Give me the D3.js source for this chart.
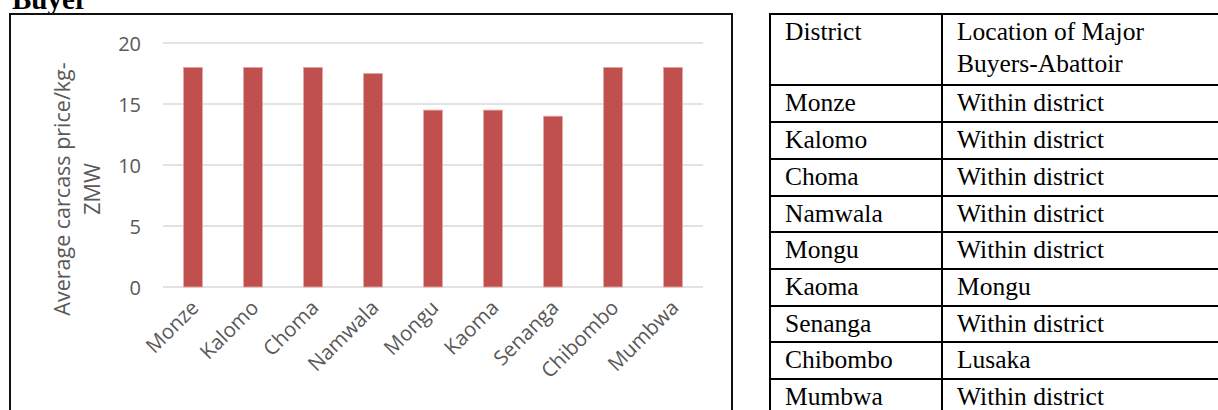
<!DOCTYPE html>
<html>
<head>
<meta charset="utf-8">
<script src="https://cdn.jsdelivr.net/npm/d3@7"></script>
<style>
  body { margin: 0; background: #fff; }
  svg { display: block; }
</style>
</head>
<body>
<div id="chart"></div>
<script>
// chart data
const districts = ["Monze", "Kalomo", "Choma", "Namwala", "Mongu", "Kaoma", "Senanga", "Chibombo", "Mumbwa"];
const carcassPrice = [18, 18, 18, 17.5, 14.5, 14.5, 14, 18, 18];
const yTicks = [0, 5, 10, 15, 20];

// table data
const tableHeader = ["District", ["Location of Major", "Buyers-Abattoir"]];
const buyerLocation = ["Within district", "Within district", "Within district", "Within district",
  "Within district", "Mongu", "Within district", "Lusaka", "Within district"];

const width = 1218, height = 410;
const chartFont = "'Open Sans', sans-serif";
const serif = "'Liberation Serif', 'Times New Roman', serif";

const svg = d3.select("#chart").append("svg")
  .attr("width", width)
  .attr("height", height);

// caption above, mostly cut off
svg.append("text")
  .attr("x", 12).attr("y", 9)
  .attr("font-family", serif)
  .attr("font-weight", "bold")
  .attr("font-size", 29)
  .text("Buyer");

// chart frame
svg.append("rect")
  .attr("x", 10).attr("y", 14)
  .attr("width", 722).attr("height", 420)
  .attr("fill", "none")
  .attr("stroke", "#111")
  .attr("stroke-width", 2);

const xScale = d3.scaleBand()
  .domain(districts)
  .range([163, 703])
  .paddingInner(0.685)
  .paddingOuter(0.3425);

const yScale = d3.scaleLinear()
  .domain([0, 20])
  .range([287, 43]);

// gridlines
svg.append("g")
  .selectAll("line")
  .data(yTicks)
  .enter().append("line")
  .attr("x1", 163).attr("x2", 703)
  .attr("y1", d => yScale(d)).attr("y2", d => yScale(d))
  .attr("stroke", "#d9d9d9")
  .attr("stroke-width", 1.5);

// y axis labels
const yAxis = d3.axisLeft(yScale).tickValues(yTicks).tickSize(0).tickPadding(0);
svg.append("g")
  .attr("transform", "translate(141,0)")
  .call(yAxis)
  .call(g => g.select(".domain").remove())
  .selectAll("text")
  .attr("font-family", chartFont)
  .attr("font-size", 20)
  .attr("fill", "#595959")
  .attr("dy", "0.35em");

// y axis title (two lines)
const yTitle = svg.append("text")
  .attr("transform", "translate(0,189) rotate(-90)")
  .attr("text-anchor", "middle")
  .attr("font-family", chartFont)
  .attr("font-size", 21.5)
  .attr("fill", "#595959");
yTitle.append("tspan").attr("x", 0).attr("y", 70).text("Average carcass price/kg-");
yTitle.append("tspan").attr("x", 0).attr("y", 100).text("ZMW");

// bars
svg.append("g")
  .selectAll("rect")
  .data(carcassPrice)
  .enter().append("rect")
  .attr("x", (d, i) => xScale(districts[i]))
  .attr("y", d => yScale(d))
  .attr("width", xScale.bandwidth())
  .attr("height", d => yScale(0) - yScale(d))
  .attr("fill", "#c0504d")
  .attr("stroke", "#e4a6a4")
  .attr("stroke-width", 0.8);

// x axis labels
const xAxis = d3.axisBottom(xScale).tickSize(0).tickPadding(0);
svg.append("g")
  .attr("transform", "translate(0,287)")
  .call(xAxis)
  .call(g => g.select(".domain").remove())
  .selectAll("text")
  .attr("font-family", chartFont)
  .attr("font-size", 20.5)
  .attr("fill", "#595959")
  .attr("text-anchor", "end")
  .attr("dy", 0)
  .attr("y", 0)
  .attr("transform", "translate(7,22) rotate(-45)");

// table on the right
const colX = [770, 942];
const tableRight = 1230;
const rowLines = [14, 85, 122, 159, 196, 232, 269, 306, 342, 379];

const table = svg.append("g")
  .attr("font-family", serif)
  .attr("font-size", 25.5)
  .attr("fill", "#000");

table.selectAll(".hline")
  .data(rowLines)
  .enter().append("line")
  .attr("class", "hline")
  .attr("x1", colX[0] - 1).attr("x2", tableRight)
  .attr("y1", d => d).attr("y2", d => d)
  .attr("stroke", "#000")
  .attr("stroke-width", 2);

table.selectAll(".vline")
  .data(colX)
  .enter().append("line")
  .attr("class", "vline")
  .attr("x1", d => d).attr("x2", d => d)
  .attr("y1", 13).attr("y2", 420)
  .attr("stroke", "#000")
  .attr("stroke-width", 2);

// header
table.append("text").attr("x", colX[0] + 15).attr("y", 40).text(tableHeader[0]);
table.selectAll(".head2")
  .data(tableHeader[1])
  .enter().append("text")
  .attr("class", "head2")
  .attr("x", colX[1] + 15)
  .attr("y", (d, i) => 40 + i * 32)
  .text(d => d);

// rows
const rows = table.selectAll(".row")
  .data(districts)
  .enter().append("g")
  .attr("class", "row")
  .attr("transform", (d, i) => `translate(0,${rowLines[i + 1]})`);

rows.append("text")
  .attr("x", colX[0] + 15)
  .attr("y", 26)
  .text(d => d);

rows.append("text")
  .attr("x", colX[1] + 15)
  .attr("y", 26)
  .text((d, i) => buyerLocation[i]);
</script>
</body>
</html>
